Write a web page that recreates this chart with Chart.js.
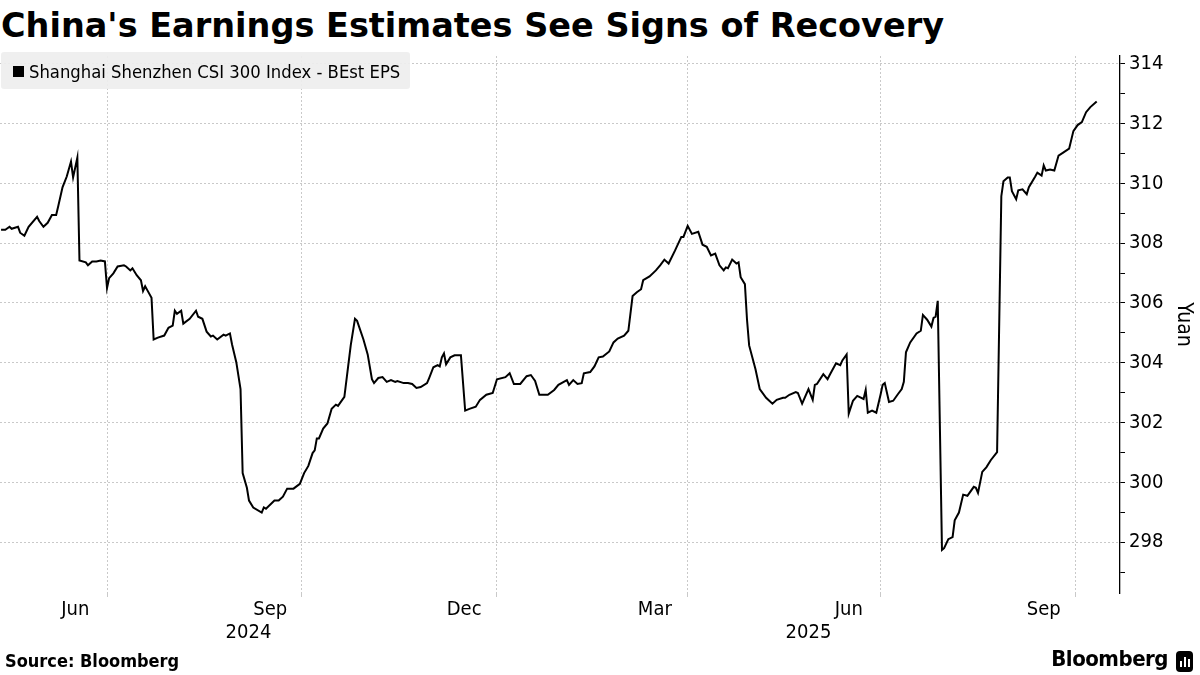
<!DOCTYPE html>
<html>
<head>
<meta charset="utf-8">
<script src="https://cdn.jsdelivr.net/npm/chart.js@4.4.1/dist/chart.umd.min.js"></script>
<style>
  body { margin: 0; width: 1200px; height: 675px; background: #fff; position: relative; overflow: hidden; }
  #title { position: absolute; left: 1px; top: 4px; font: bold 33.5px 'DejaVu Sans', sans-serif; line-height: 44px; color: #000; white-space: nowrap; }
  #legend { position: absolute; left: 1px; top: 52px; width: 409px; height: 37px; background: rgba(238,238,238,0.92); border-radius: 3px; z-index: 2; }
  #legend .sw { position: absolute; left: 12px; top: 14px; width: 11px; height: 11px; background: #000; }
  #legend .tx { position: absolute; left: 28px; top: 1px; font: 18.3px 'DejaVu Sans Condensed', 'DejaVu Sans', sans-serif; line-height: 37px; color: #000; white-space: nowrap; }
  #chartBox { position: absolute; left: 0; top: 40px; width: 1200px; height: 620px; }
  #source { position: absolute; left: 5px; top: 650px; font: bold 18px 'DejaVu Sans Condensed', 'DejaVu Sans', sans-serif; color: #000; }
  #logo { position: absolute; right: 32px; top: 646px; font: bold 22px 'DejaVu Sans Condensed', 'DejaVu Sans', sans-serif; color: #000; letter-spacing: -0.5px; }
  #icon { position: absolute; left: 1176px; top: 651px; width: 17px; height: 21px; background: #000; border-radius: 4px; }
  #icon i { position: absolute; bottom: 5px; width: 2px; background: #fff; }
</style>
</head>
<body>
<div id="title">China's Earnings Estimates See Signs of Recovery</div>
<div id="legend"><div class="sw"></div><div class="tx">Shanghai Shenzhen CSI 300 Index - BEst EPS</div></div>
<div id="chartBox"><canvas id="epsChart" width="1200" height="620"></canvas></div>
<div id="source">Source: Bloomberg</div>
<div id="logo">Bloomberg</div>
<div id="icon"><i style="left:4px;height:6px"></i><i style="left:8px;height:10px"></i><i style="left:12px;height:8px"></i></div>
<script>
const dates = [
  '2024-05-12','2024-05-14','2024-05-16','2024-05-17','2024-05-20','2024-05-21','2024-05-23','2024-05-25','2024-05-29','2024-05-30',
  '2024-06-01','2024-06-03','2024-06-05','2024-06-07','2024-06-08','2024-06-10','2024-06-12','2024-06-14','2024-06-15','2024-06-17',
  '2024-06-18','2024-06-21','2024-06-22','2024-06-24','2024-06-26','2024-06-28','2024-06-30','2024-07-01','2024-07-02','2024-07-04',
  '2024-07-06','2024-07-09','2024-07-10','2024-07-12','2024-07-13','2024-07-15','2024-07-17','2024-07-18','2024-07-19','2024-07-20',
  '2024-07-22','2024-07-23','2024-07-25','2024-07-28','2024-07-30','2024-08-01','2024-08-02','2024-08-03','2024-08-05','2024-08-06',
  '2024-08-09','2024-08-12','2024-08-13','2024-08-15','2024-08-17','2024-08-19','2024-08-20','2024-08-22','2024-08-25','2024-08-26',
  '2024-08-28','2024-08-29','2024-08-31','2024-09-02','2024-09-03','2024-09-05','2024-09-06','2024-09-08','2024-09-12','2024-09-13',
  '2024-09-14','2024-09-18','2024-09-20','2024-09-22','2024-09-24','2024-09-27','2024-09-30','2024-10-02','2024-10-04','2024-10-06',
  '2024-10-07','2024-10-08','2024-10-09','2024-10-11','2024-10-13','2024-10-15','2024-10-17','2024-10-18','2024-10-21','2024-10-24',
  '2024-10-26','2024-10-27','2024-10-30','2024-11-01','2024-11-03','2024-11-04','2024-11-06','2024-11-08','2024-11-10','2024-11-12',
  '2024-11-14','2024-11-15','2024-11-18','2024-11-20','2024-11-22','2024-11-24','2024-11-26','2024-11-29','2024-11-30','2024-12-02',
  '2024-12-04','2024-12-05','2024-12-06','2024-12-07','2024-12-08','2024-12-10','2024-12-12','2024-12-15','2024-12-17','2024-12-19',
  '2024-12-22','2024-12-24','2024-12-27','2024-12-30','2025-01-01','2025-01-05','2025-01-07','2025-01-09','2025-01-12','2025-01-15',
  '2025-01-17','2025-01-19','2025-01-21','2025-01-25','2025-01-28','2025-01-30','2025-02-03','2025-02-04','2025-02-06','2025-02-08',
  '2025-02-10','2025-02-11','2025-02-14','2025-02-16','2025-02-18','2025-02-20','2025-02-23','2025-02-25','2025-02-27','2025-03-02',
  '2025-03-04','2025-03-06','2025-03-08','2025-03-10','2025-03-11','2025-03-14','2025-03-17','2025-03-19','2025-03-21','2025-03-23',
  '2025-03-26','2025-03-29','2025-03-30','2025-04-01','2025-04-03','2025-04-06','2025-04-08','2025-04-10','2025-04-12','2025-04-14',
  '2025-04-16','2025-04-18','2025-04-19','2025-04-20','2025-04-22','2025-04-24','2025-04-25','2025-04-26','2025-04-28','2025-04-29',
  '2025-04-30','2025-05-03','2025-05-05','2025-05-08','2025-05-11','2025-05-13','2025-05-16','2025-05-17','2025-05-19','2025-05-22',
  '2025-05-23','2025-05-25','2025-05-28','2025-05-30','2025-05-31','2025-06-01','2025-06-04','2025-06-06','2025-06-07','2025-06-10',
  '2025-06-12','2025-06-13','2025-06-15','2025-06-16','2025-06-18','2025-06-20','2025-06-23','2025-06-24','2025-06-25','2025-06-27',
  '2025-06-29','2025-07-01','2025-07-02','2025-07-03','2025-07-05','2025-07-07','2025-07-09','2025-07-11','2025-07-12','2025-07-13',
  '2025-07-15','2025-07-18','2025-07-20','2025-07-21','2025-07-23','2025-07-25','2025-07-26','2025-07-27','2025-07-28','2025-07-30',
  '2025-07-31','2025-08-02','2025-08-04','2025-08-05','2025-08-07','2025-08-09','2025-08-11','2025-08-14','2025-08-15','2025-08-16',
  '2025-08-18','2025-08-20','2025-08-22','2025-08-25','2025-08-27','2025-08-28','2025-08-30','2025-08-31','2025-09-01','2025-09-03',
  '2025-09-04','2025-09-06','2025-09-08','2025-09-09','2025-09-12','2025-09-13','2025-09-15','2025-09-16','2025-09-17','2025-09-19',
  '2025-09-21','2025-09-23','2025-09-25','2025-09-28','2025-09-30','2025-10-02','2025-10-04','2025-10-06','2025-10-08','2025-10-11'
];

// BEst EPS, юани
const eps = [
  308.45,308.45,308.55,308.48,308.55,308.35,308.25,308.55,308.88,308.74,
  308.55,308.68,308.94,308.94,309.24,309.87,310.23,310.73,310.20,310.86,
  307.42,307.36,307.26,307.39,307.39,307.42,307.39,306.50,306.83,306.99,
  307.22,307.26,307.22,307.09,307.16,306.93,306.76,306.40,306.56,306.43,
  306.17,304.78,304.84,304.91,305.17,305.24,305.74,305.64,305.74,305.31,
  305.47,305.74,305.54,305.47,305.04,304.88,304.91,304.78,304.94,304.91,
  304.98,304.61,304.02,303.12,300.31,299.82,299.39,299.16,298.99,299.16,
  299.12,299.39,299.39,299.52,299.79,299.79,299.95,300.31,300.55,300.98,
  301.07,301.47,301.47,301.80,301.97,302.46,302.60,302.56,302.86,304.58,
  305.47,305.40,304.78,304.28,303.45,303.32,303.49,303.52,303.36,303.42,
  303.36,303.39,303.32,303.32,303.29,303.16,303.19,303.32,303.49,303.85,
  303.92,303.88,304.18,304.31,303.95,304.18,304.25,304.25,302.40,302.46,
  302.53,302.76,302.93,302.99,303.45,303.52,303.65,303.29,303.29,303.55,
  303.59,303.39,302.93,302.93,303.09,303.26,303.42,303.26,303.42,303.29,
  303.32,303.65,303.69,303.88,304.18,304.21,304.38,304.68,304.81,304.91,
  305.07,306.23,306.36,306.46,306.76,306.89,307.09,307.26,307.45,307.32,
  307.75,308.21,308.21,308.58,308.31,308.38,307.95,307.88,307.59,307.65,
  307.26,307.09,307.19,307.16,307.45,307.32,307.36,306.86,306.63,305.44,
  304.58,303.78,303.12,302.83,302.63,302.76,302.83,302.83,302.93,303.02,
  302.99,302.63,303.12,302.76,303.26,303.29,303.62,303.45,303.59,303.98,
  303.92,304.08,304.28,302.30,302.73,302.89,302.79,303.09,302.33,302.40,
  302.33,302.93,303.26,303.32,302.69,302.73,302.93,303.12,303.36,304.35,
  304.68,304.98,305.07,305.60,305.44,305.21,305.50,305.54,306.07,297.74,
  297.80,298.10,298.17,298.73,298.99,299.59,299.55,299.85,299.82,299.65,
  300.35,300.51,300.74,301.01,309.57,310.07,310.20,310.20,309.74,309.47,
  309.77,309.80,309.64,309.87,310.23,310.36,310.26,310.60,310.43,310.46,
  310.43,310.93,311.02,311.16,311.75,311.95,312.05,312.38,312.55,312.74
];

// Подписи и деления осей
const gridDates = ['2024-07-01', '2024-10-01', '2025-01-01', '2025-04-01', '2025-07-01', '2025-10-01'];
const monthTicks = ['2024-06', '2024-09', '2024-12', '2025-03', '2025-06', '2025-09'];
const monthNames = ['Jun', 'Sep', 'Dec', 'Mar', 'Jun', 'Sep'];
const yearLabels = ['2024', '2025'];
const yMajor = [298, 300, 302, 304, 306, 308, 310, 312, 314];
const yMinor = [297, 299, 301, 303, 305, 307, 309, 311, 313];

const DAY = 86400000;
const BASE = Date.UTC(2024, 6, 1);
function dayOf(s) {
    const p = s.split('-').map(Number);
    return (Date.UTC(p[0], p[1] - 1, p[2] || 1) - BASE) / DAY;
}
// середина месяца — туда ставим подпись
function monthMid(s) {
    const p = s.split('-').map(Number);
    const a = Date.UTC(p[0], p[1] - 1, 1), b = Date.UTC(p[0], p[1], 1);
    return ((a + b) / 2 - BASE) / DAY;
}

const xMin = dayOf('2024-05-12') - 0.5;
const xMax = dayOf('2025-10-22');
const points = dates.map((d, i) => ({ x: dayOf(d), y: eps[i] }));

const gridVals = gridDates.map(dayOf);
const monthVals = monthTicks.map(monthMid);
const yearStarts = yearLabels.map(y => dayOf(y + '-01-01'));
const yearVals = yearLabels.map((y, i) => {
    const a = Math.max(xMin, yearStarts[i]);
    const b = i + 1 < yearStarts.length ? yearStarts[i + 1] : xMax;
    return (a + b) / 2;
});

const tickFont = { family: "'DejaVu Sans Condensed', 'DejaVu Sans', sans-serif", size: 20 };
const GRID = '#c9c9c9';

const ctx = document.getElementById('epsChart').getContext('2d');
new Chart(ctx, {
    type: 'line',
    data: {
        datasets: [{
            label: 'Shanghai Shenzhen CSI 300 Index - BEst EPS',
            data: points,
            borderColor: '#000',
            borderWidth: 2,
            pointRadius: 0,
            tension: 0
        }]
    },
    options: {
        responsive: false,
        animation: false,
        layout: { padding: { top: 10, left: 0, right: 0, bottom: 0 } },
        plugins: { legend: { display: false }, tooltip: { enabled: false } },
        scales: {
            x: {
                type: 'linear', position: 'bottom', weight: 0,
                min: xMin, max: xMax,
                afterBuildTicks: s => {
                    s.ticks = gridVals.concat(monthVals).sort((a, b) => a - b).map(v => ({ value: v }));
                },
                afterFit: s => { s.height = 28; },
                grid: {
                    color: c => gridVals.includes(c.tick && c.tick.value) ? GRID : 'rgba(0,0,0,0)',
                    tickColor: c => gridVals.includes(c.tick && c.tick.value) ? GRID : 'rgba(0,0,0,0)',
                    lineWidth: 1,
                    tickLength: 4
                },
                border: { display: false, dash: [2, 2] },
                ticks: {
                    autoSkip: false, maxRotation: 0, padding: 1,
                    color: '#000', font: tickFont,
                    callback: v => {
                        const i = monthVals.indexOf(v);
                        return i >= 0 ? monthNames[i] : '';
                    }
                }
            },
            x2: {
                type: 'linear', position: 'bottom', weight: 1,
                min: xMin, max: xMax,
                afterBuildTicks: s => { s.ticks = yearVals.map(v => ({ value: v })); },
                afterFit: s => { s.height = 39; },
                grid: { display: false, drawTicks: false },
                border: { display: false },
                ticks: {
                    autoSkip: false, maxRotation: 0, padding: 0,
                    color: '#000', font: tickFont,
                    callback: v => yearLabels[yearVals.indexOf(v)] || ''
                }
            },
            y: {
                type: 'linear', position: 'right',
                min: 296.3, max: 314.26,
                afterBuildTicks: s => {
                    s.ticks = yMinor.concat(yMajor).sort((a, b) => a - b).map(v => ({ value: v }));
                },
                afterFit: s => { s.width = 80; },
                grid: {
                    color: c => yMajor.includes(c.tick && c.tick.value) ? GRID : 'rgba(0,0,0,0)',
                    tickColor: '#000',
                    lineWidth: 1,
                    tickLength: 5
                },
                border: { display: true, color: '#000', width: 1.3, dash: [2, 2] },
                ticks: {
                    padding: 4, color: '#000', font: tickFont,
                    callback: v => yMajor.includes(v) ? String(v) : ''
                },
                title: {
                    display: true, text: 'Yuan', color: '#000',
                    font: { family: "'DejaVu Sans Condensed', 'DejaVu Sans', sans-serif", size: 21 }
                }
            }
        }
    }
});
</script>
</body>
</html>
